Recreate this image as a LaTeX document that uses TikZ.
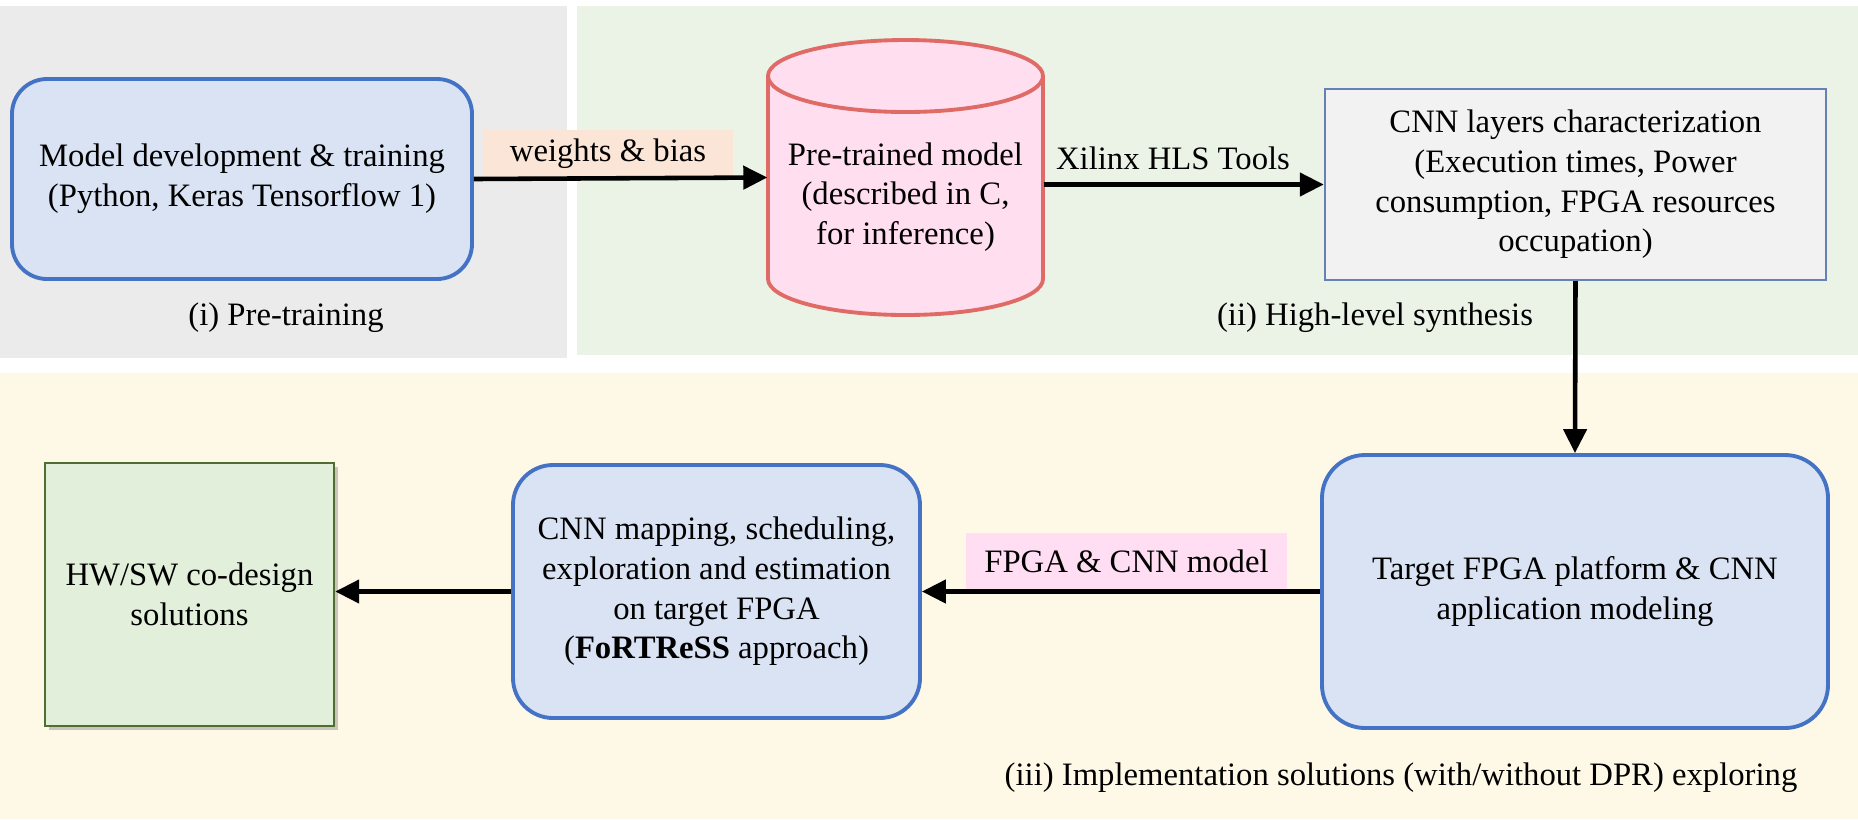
\documentclass[tikz,border=0pt]{standalone}
\usepackage{fontspec}
\setmainfont{Liberation Serif}
\usetikzlibrary{arrows.meta,shadows,calc}
\definecolor{graypanel}{HTML}{EBEBEB}
\definecolor{greenpanel}{HTML}{EBF3E7}
\definecolor{yellowpanel}{HTML}{FEF8E7}
\definecolor{bluefill}{HTML}{DAE3F3}
\definecolor{blueline}{HTML}{4472C4}
\definecolor{grayfill}{HTML}{F2F2F2}
\definecolor{grayline}{HTML}{6680B8}
\definecolor{cylfill}{HTML}{FFDFEF}
\definecolor{cylline}{HTML}{E06B66}
\definecolor{peach}{HTML}{FBE5D6}
\definecolor{pinklab}{HTML}{FFDDF2}
\definecolor{greenfill}{HTML}{E2EFDA}
\definecolor{greenline}{HTML}{4F6F32}
\tikzset{
  every node/.style={font=\fontsize{9.3}{11.3}\selectfont, align=center, inner sep=0pt},
  roundbox/.style={draw=blueline, fill=bluefill, line width=1.1pt, rounded corners=0.38cm},
  charbox/.style={draw=grayline, fill=grayfill, line width=0.7pt},
  solbox/.style={draw=greenline, fill=greenfill, line width=0.7pt,
    drop shadow={shadow xshift=0.035cm, shadow yshift=-0.035cm, opacity=0.35, fill=black!60}},
  lab/.style={inner sep=0pt},
  flow/.style={line width=1.3pt, -{Triangle[length=0.24cm,width=0.23cm]}},
}
\begin{document}
\begin{tikzpicture}
\useasboundingbox (0,0) rectangle (18.58,-8.19);
\fill[white] (0,0) rectangle (18.58,-8.19);
% panels
\fill[graypanel] (0,-0.06) rectangle (5.67,-3.58);
\fill[greenpanel] (5.77,-0.06) rectangle (18.58,-3.55);
\fill[yellowpanel] (0,-3.73) rectangle (18.58,-8.19);

% nodes
\node[roundbox, minimum width=4.60cm, minimum height=2.00cm, rounded corners=0.35cm] (model) at (2.42,-1.79)
  {Model development \& training\\(Python, Keras Tensorflow 1)};

% cylinder
\node[minimum width=2.75cm, minimum height=2.75cm] (cyl) at (9.055,-1.775) {};
\fill[cylfill] (7.68,-0.76) -- (7.68,-2.79) arc[start angle=180,end angle=360,x radius=1.375cm,y radius=0.36cm]
  -- (10.43,-0.76) arc[start angle=0,end angle=180,x radius=1.375cm,y radius=0.36cm] -- cycle;
\draw[cylline, line width=1.1pt] (7.68,-0.76) -- (7.68,-2.79) arc[start angle=180,end angle=360,x radius=1.375cm,y radius=0.36cm]
  -- (10.43,-0.76);
\draw[cylline, line width=1.1pt, fill=cylfill] (9.055,-0.76) ellipse[x radius=1.375cm, y radius=0.36cm];
\node (cyltext) at (9.055,-1.97) {Pre-trained model\\(described in C,\\for inference)};

\node[charbox, minimum width=5.01cm, minimum height=1.91cm] (cnn) at (15.755,-1.845)
  {CNN layers characterization\\(Execution times, Power\\consumption, FPGA resources\\occupation)};

\node[roundbox, minimum width=5.06cm, minimum height=2.73cm, rounded corners=0.43cm] (target) at (15.75,-5.915)
  {Target FPGA platform \& CNN\\application modeling};

\node[roundbox, minimum width=4.07cm, minimum height=2.53cm, rounded corners=0.40cm] (map) at (7.165,-5.915)
  {CNN mapping, scheduling,\\exploration and estimation\\on target FPGA\\(\textbf{FoRTReSS} approach)};

\node[solbox, minimum width=2.89cm, minimum height=2.63cm] (hwsw) at (1.895,-5.945)
  {HW/SW co-design\\solutions};

% labels
\node[fill=peach, minimum width=2.50cm, minimum height=0.47cm] (wlab) at (6.08,-1.535) {weights \& bias};
\node (xlab) at (11.73,-1.58) {Xilinx HLS Tools};
\node[fill=pinklab, minimum width=3.21cm, minimum height=0.57cm] (flab) at (11.265,-5.615) {FPGA \& CNN model};

\node (p1) at (2.86,-3.18) {(i) Pre-training};
\node (p2) at (13.75,-3.18) {(ii) High-level synthesis};
\node (p3) at (14.01,-7.78) {(iii) Implementation solutions (with/without DPR) exploring};

% connectors
\draw[flow] (model.east) -- (cyl.west);
\draw[flow] (cyl.east |- cnn.west) -- (cnn.west);
\draw[flow] (cnn.south) -- (target.north);
\draw[flow] (target.west) -- (map.east);
\draw[flow] (map.west) -- (map.west -| hwsw.east);
\end{tikzpicture}
\end{document}
